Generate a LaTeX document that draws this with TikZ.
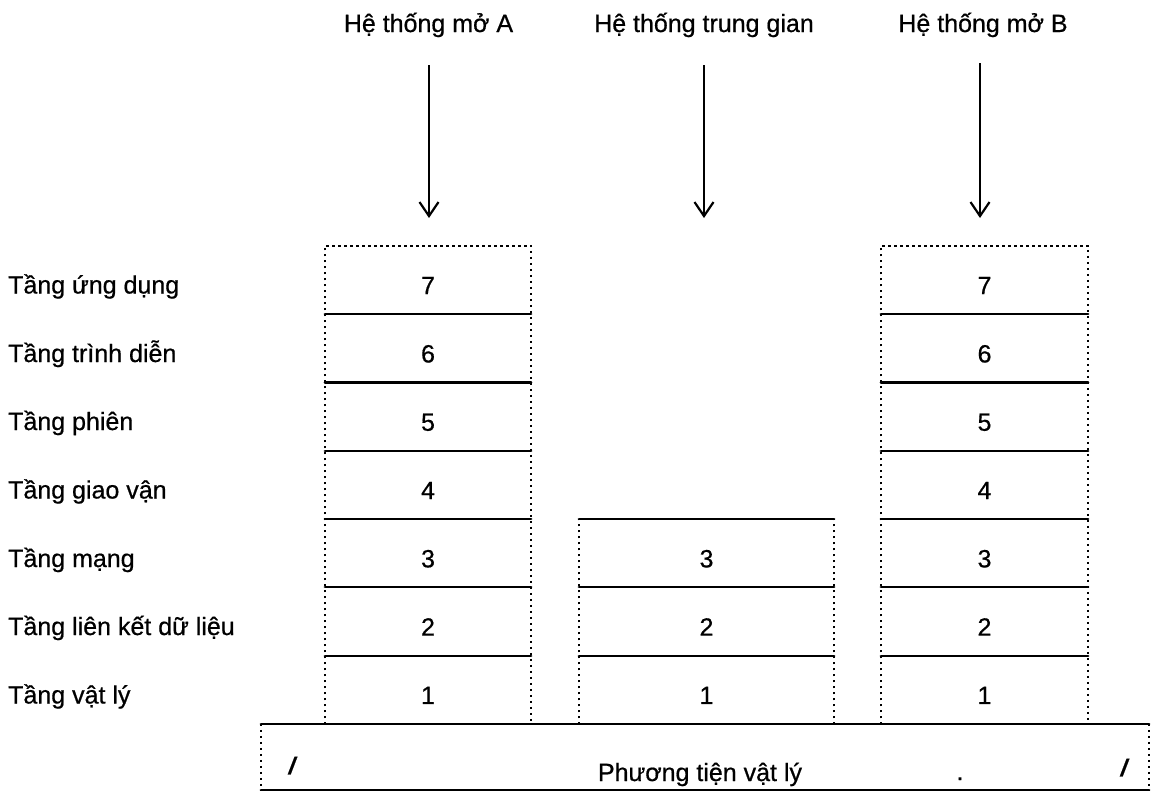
\documentclass[tikz,border=0pt]{standalone}
\usepackage{fontspec}
\setmainfont{Liberation Sans}[FakeBold=0.6]
\usetikzlibrary{arrows.meta}
\begin{document}
\begin{tikzpicture}[x=1pt,y=-1pt,
  every node/.style={font=\fontsize{25}{30}\selectfont},
  cell/.style={minimum height=68.3pt, inner sep=0pt, text height=28pt, text depth=0pt},
  cellA/.style={cell, minimum width=206pt},
  cellM/.style={cell, minimum width=255pt},
  cellB/.style={cell, minimum width=207pt},
  solidline/.style={line width=2.2pt, line cap=round},
  dotline/.style={line width=2.2pt, dash pattern=on 2.4pt off 3.6pt},
  layername/.style={anchor=base west, inner sep=0pt},
  title/.style={anchor=base, inner sep=0pt},
  slashmark/.style={anchor=base, inner sep=0pt, font=\fontsize{24}{28}\selectfont\bfseries\itshape},
  arr/.style={line width=2.2pt, -{Straight Barb[length=14pt,width=19pt,line width=2.2pt]}}
]
\useasboundingbox (0,0) rectangle (1156,793);

% system titles
\node[title] (tA) at (428.5,32) {Hệ thống mở A};
\node[title] (tM) at (704,32) {Hệ thống trung gian};
\node[title] (tB) at (983,32) {Hệ thống mở B};

% layer names
\node[layername] (n7) at (8,293.5) {Tầng ứng dụng};
\node[layername] (n6) at (8,362) {Tầng trình diễn};
\node[layername] (n5) at (8,430) {Tầng phiên};
\node[layername] (n4) at (8,498.5) {Tầng giao vận};
\node[layername] (n3) at (8,567) {Tầng mạng};
\node[layername] (n2) at (8,635) {Tầng liên kết dữ liệu};
\node[layername] (n1) at (8,703.5) {Tầng vật lý};

% stacks of layers
\foreach \k/\y in {7/280.15,6/348.45,5/416.75,4/485.05,3/553.35,2/621.65,1/689.95}{
  \node[cellA] (A\k) at (428,\y) {\k};
  \node[cellB] (B\k) at (984.5,\y) {\k};
}
\foreach \k/\y in {3/553.35,2/621.65,1/689.95}{
  \node[cellM] (M\k) at (706.5,\y) {\k};
}

% end systems: dotted outline, solid separators
\foreach \s in {A,B}{
  \draw[dotline] (\s1.south west) -- (\s7.north west) -- (\s7.north east) -- (\s1.south east);
  \foreach \k in {1,...,6}{
    \draw[solidline] (\s\k.north west) -- (\s\k.north east);
  }
}
% intermediate system
\draw[dotline] (M1.south west) -- (M3.north west);
\draw[dotline] (M1.south east) -- (M3.north east);
\foreach \k in {1,2,3}{
  \draw[solidline] (M\k.north west) -- (M\k.north east);
}

% physical medium
\node[minimum width=888pt, minimum height=66pt, inner sep=0pt] (phys) at (705,757) {};
\draw[solidline] (phys.north west) -- (phys.north east);
\draw[solidline] (phys.south west) -- (phys.south east);
\draw[dotline] (phys.north west) -- (phys.south west);
\draw[dotline] (phys.north east) -- (phys.south east);
\node[title] (physlbl) at (700,781) {Phương tiện vật lý};
\node[slashmark] (sl1) at (292,774) {/};
\node[slashmark] (sl2) at (1124,776) {/};
\node[title] (dot1) at (960,780) {.};

% arrows into each system
\coordinate (eA) at (429,218);
\coordinate (eM) at (704,218);
\coordinate (eB) at (980,218);
\draw[arr] (429,65) -- (eA);
\draw[arr] (704,65) -- (eM);
\draw[arr] (980,63) -- (eB);
\end{tikzpicture}
\end{document}
